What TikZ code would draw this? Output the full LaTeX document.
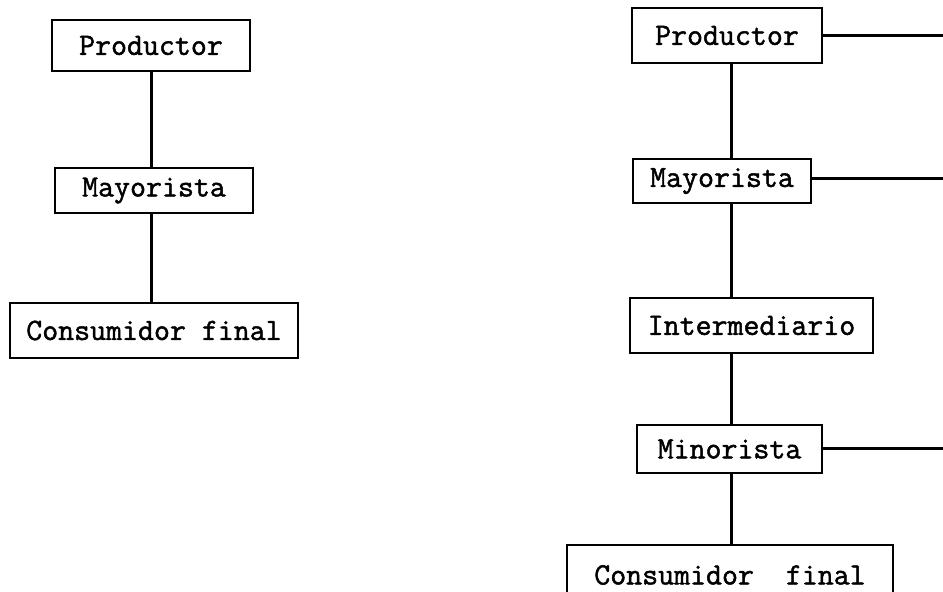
\documentclass[tikz,border=0pt]{standalone}
\usepackage{fontspec}
\setmonofont[FakeBold=1.5]{Latin Modern Mono}
\begin{document}
\begin{tikzpicture}[x=1pt,y=-1pt,
  boxnode/.style={draw=black,line width=2.8pt,inner sep=0pt,font=\ttfamily\fontsize{31}{35}\selectfont,text=black},
  link/.style={draw=black,line width=3pt}]
\fill[white] (0,0) rectangle (943,592);
\useasboundingbox (0,0) rectangle (943,592);
% left column
\node[boxnode,minimum width=198pt,minimum height=51pt] (L1) at (151,45.5) {Productor};
\node[boxnode,minimum width=198pt,minimum height=45pt] (L2) at (154,190.5) {Mayorista};
\node[boxnode,minimum width=288pt,minimum height=55pt] (L3) at (154,330.5) {Consumidor final};
\coordinate (lx) at (151,0);
\draw[link] (L1.south -| lx) -- (L2.north -| lx);
\draw[link] (L2.south -| lx) -- (L3.north -| lx);
% right column
\node[boxnode,minimum width=190pt,minimum height=55pt] (R1) at (727,35.5) {Productor};
\node[boxnode,minimum width=178pt,minimum height=44pt] (R2) at (722,181) {Mayorista};
\node[boxnode,minimum width=243pt,minimum height=55pt] (R3) at (751.5,325.5) {Intermediario};
\node[boxnode,minimum width=185pt,minimum height=48pt] (R4) at (729.5,449) {Minorista};
\node[boxnode,minimum width=326pt,minimum height=60pt] (R5) at (730,575) {Consumidor\ \ final};
\coordinate (rx) at (731,0);
\draw[link] (R1.south -| rx) -- (R2.north -| rx);
\draw[link] (R2.south -| rx) -- (R3.north -| rx);
\draw[link] (R3.south -| rx) -- (R4.north -| rx);
\draw[link] (R4.south -| rx) -- (R5.north -| rx);
% branches to the right edge
\coordinate (E1) at (945,35);
\coordinate (E2) at (945,178);
\coordinate (E4) at (945,448);
\draw[link] (R1.east |- E1) -- (E1);
\draw[link] (R2.east |- E2) -- (E2);
\draw[link] (R4.east |- E4) -- (E4);
\end{tikzpicture}
\end{document}
